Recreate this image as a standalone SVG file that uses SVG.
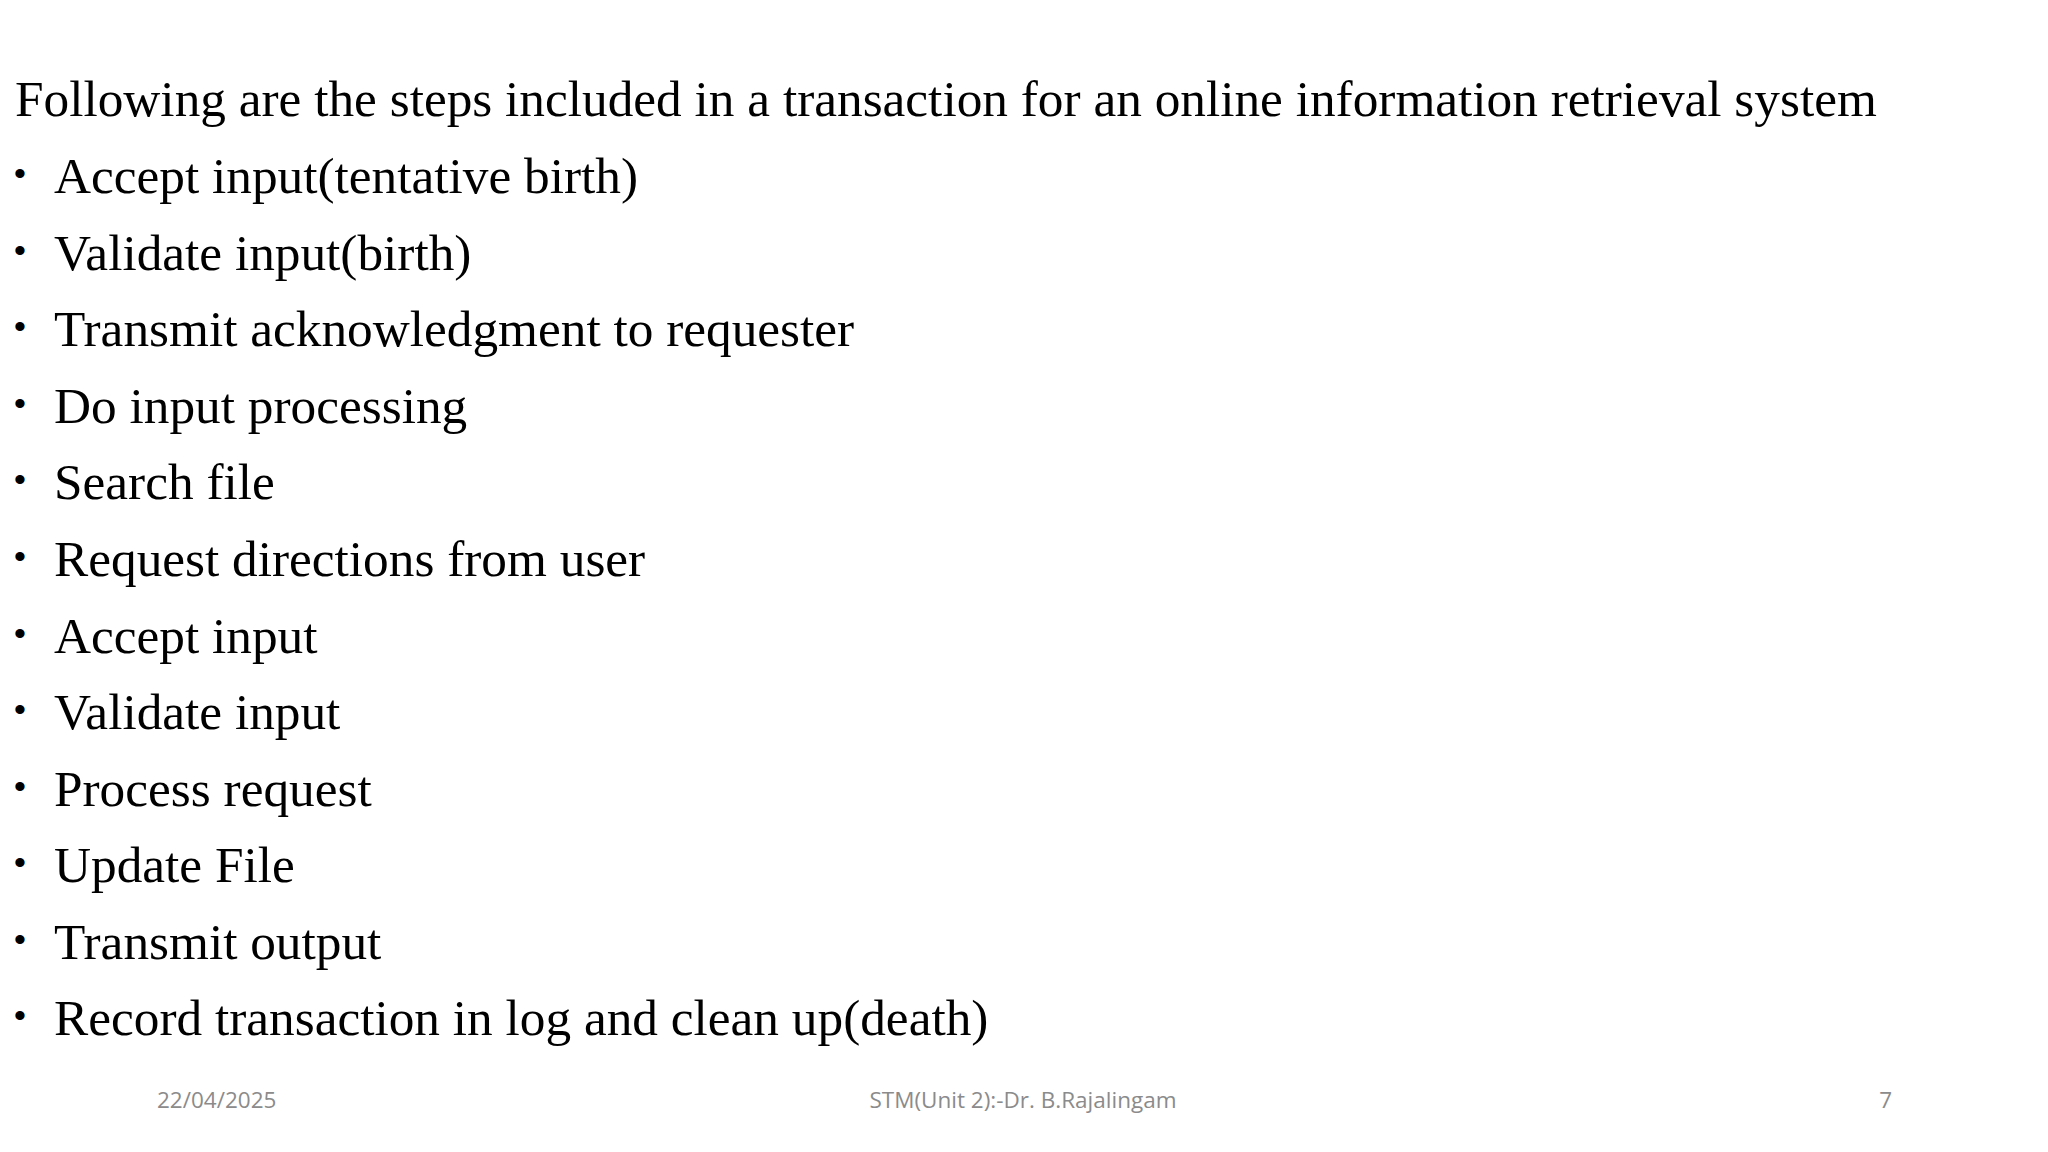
<svg xmlns="http://www.w3.org/2000/svg" width="2048" height="1152" viewBox="0 0 2048 1152">
<style>
.t{font-family:"Liberation Serif",serif;font-size:51.3px;fill:#000}
.b{font-family:"Liberation Sans",sans-serif;font-size:34px;fill:#000}
.f{font-family:"Open Sans","Liberation Sans",sans-serif;font-size:22.5px;fill:#8b8b8b}
</style>
<rect width="2048" height="1152" fill="#fff"/>
<g id="title"><text class="t" x="15" y="116">Following are the steps included in a transaction for an online information retrieval system</text></g>
<g id="list">
<g class="b">
<text x="14" y="185">•</text><text x="14" y="262">•</text><text x="14" y="338">•</text><text x="14" y="415">•</text><text x="14" y="491">•</text><text x="14" y="568">•</text><text x="14" y="645">•</text><text x="14" y="721">•</text><text x="14" y="798">•</text><text x="14" y="874">•</text><text x="14" y="951">•</text><text x="14" y="1027">•</text>
</g>
<g class="t">
<text x="54" y="193">Accept input(tentative birth)</text>
<text x="54" y="270">Validate input(birth)</text>
<text x="54" y="346">Transmit acknowledgment to requester</text>
<text x="54" y="423">Do input processing</text>
<text x="54" y="499">Search file</text>
<text x="54" y="576">Request directions from user</text>
<text x="54" y="653">Accept input</text>
<text x="54" y="729">Validate input</text>
<text x="54" y="806">Process request</text>
<text x="54" y="882">Update File</text>
<text x="54" y="959">Transmit output</text>
<text x="54" y="1035">Record transaction in log and clean up(death)</text>
</g>
</g>
<g id="footer" class="f">
<text x="157" y="1108">22/04/2025</text>
<text x="1023" y="1108" text-anchor="middle">STM(Unit 2):-Dr. B.Rajalingam</text>
<text x="1892" y="1108" text-anchor="end">7</text>
</g>
</svg>
